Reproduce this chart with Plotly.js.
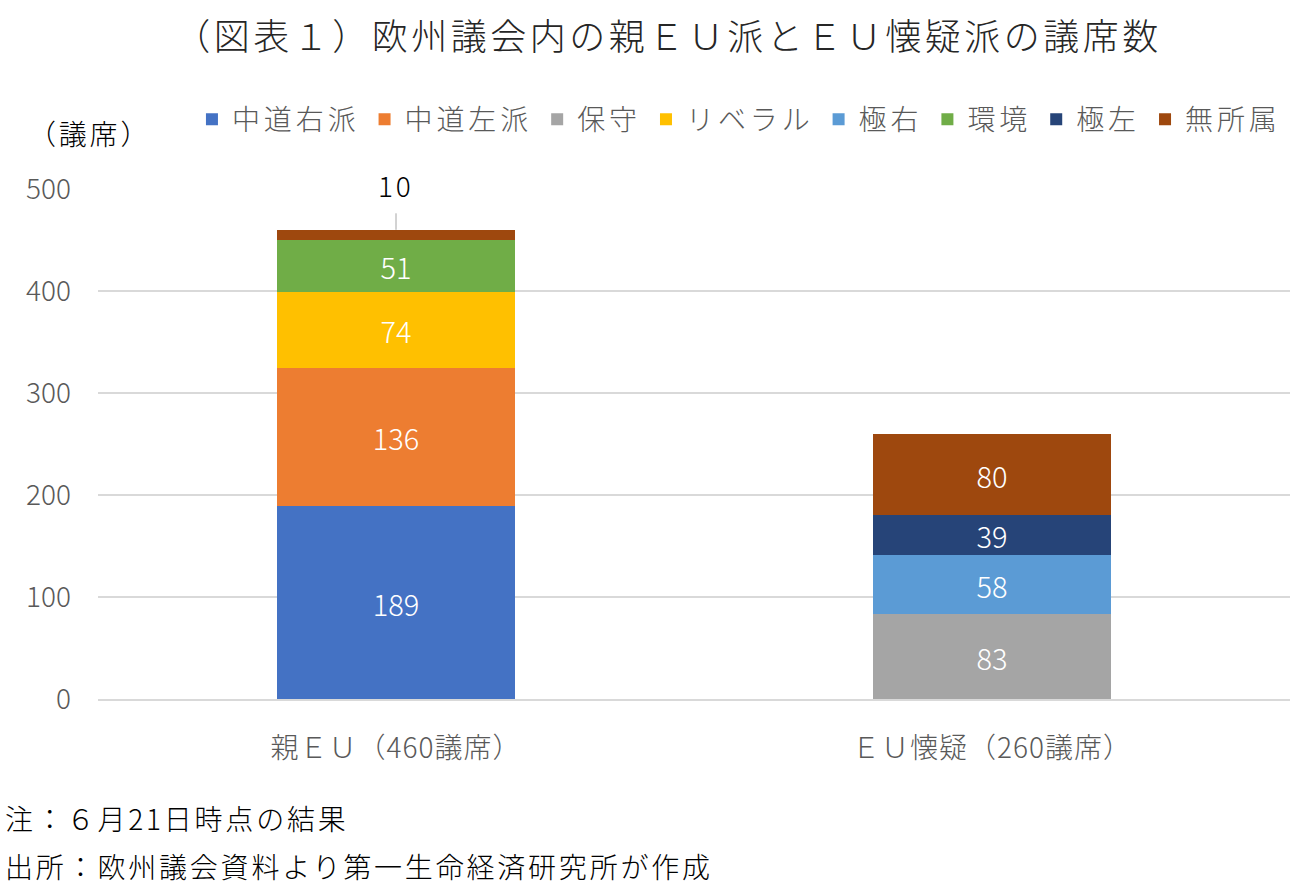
<!DOCTYPE html>
<html><head><meta charset="utf-8">
<script src="https://cdn.plot.ly/plotly-3.0.1.min.js"></script>
<style>
html,body{margin:0;padding:0;background:#fff}#chart{width:1297px;height:886px}
.gtitle{letter-spacing:3.5px}
.legendtext{letter-spacing:3.9px}
.annotation-text{letter-spacing:2.8px}
.xtick text{letter-spacing:1px}
</style>
</head><body><div id="chart"></div>
<script>
const categories = ['親ＥＵ（460議席）', 'ＥＵ懐疑（260議席）'];
const seriesNames = ['中道右派', '中道左派', '保守', 'リベラル', '極右', '環境', '極左', '無所属'];
const centerRight = [189, null];
const centerLeft = [136, null];
const conservative = [null, 83];
const liberal = [74, null];
const farRight = [null, 58];
const greens = [51, null];
const farLeft = [null, 39];
const nonAttached = [10, 80];
const colors = ['#4472C4', '#ED7D31', '#A5A5A5', '#FFC000', '#5B9BD5', '#70AD47', '#264478', '#9E480E'];
const yTicks = [0, 100, 200, 300, 400, 500];

const seriesValues = [centerRight, centerLeft, conservative, liberal, farRight, greens, farLeft, nonAttached];
const FONT = '"Noto Sans CJK JP", "Noto Sans", sans-serif';
const W = 300;

const traces = seriesValues.map((vals, i) => ({
  type: 'bar',
  name: seriesNames[i],
  x: categories,
  y: vals,
  marker: {color: colors[i], line: {width: 0}},
  text: vals.map((v, j) => (v == null || (i === 7 && j === 0)) ? '' : String(v)),
  textposition: 'inside',
  insidetextanchor: 'middle',
  constraintext: 'none',
  textangle: 0,
  textfont: {family: FONT, size: 29, color: '#ffffff', weight: W},
  hoverinfo: 'skip'
}));

const layout = {
  width: 1297, height: 886,
  barmode: 'stack',
  bargap: 0.6,
  paper_bgcolor: '#fff', plot_bgcolor: '#fff',
  margin: {l: 98, r: 7, t: 189, b: 187},
  font: {family: FONT, color: '#595959', weight: W},
  title: {text: '（図表１）欧州議会内の親ＥＵ派とＥＵ懐疑派の議席数', font: {family: FONT, size: 36, color: '#262626', weight: W},
          x: 0.515, xanchor: 'center', y: 0.958, yanchor: 'middle', xref: 'container', yref: 'container'},
  showlegend: true,
  legend: {orientation: 'h', xref: 'container', yref: 'container', x: 0.148, y: 0.865, xanchor: 'left', yanchor: 'middle',
           font: {family: FONT, size: 28, color: '#595959', weight: W}, traceorder: 'normal', itemsizing: 'constant', itemwidth: 30, tracegroupgap: 0},
  xaxis: {type: 'category', showgrid: false, showline: true, linecolor: '#d9d9d9', linewidth: 1.5, ticks: '',
          tickfont: {family: FONT, size: 28, color: '#595959', weight: W}, ticklabelstandoff: 24, zeroline: false},
  yaxis: {range: [0, 500], tickvals: yTicks, ticktext: yTicks.map(String), showgrid: true, gridcolor: '#d9d9d9', gridwidth: 1.3,
          zeroline: false, showline: false, ticks: '', tickfont: {family: FONT, size: 28, color: '#595959', weight: W}, ticklabelstandoff: 26},
  annotations: [
    {x: categories[0], y: centerRight[0] + centerLeft[0] + liberal[0] + greens[0] + nonAttached[0], xref: 'x', yref: 'y',
     text: String(nonAttached[0]), showarrow: true, arrowhead: 0, arrowwidth: 1, arrowcolor: '#a6a6a6', ax: 0, ay: -45,
     borderpad: 8, font: {family: FONT, size: 28, color: '#000', weight: W}},
    {xref: 'paper', yref: 'paper', x: -0.007, y: 1.11, text: '（議席）', showarrow: false,
     font: {family: FONT, size: 28, color: '#000', weight: W}, xanchor: 'center', yanchor: 'middle'},
    {xref: 'paper', yref: 'paper', x: -0.08, y: -0.233, text: '注：６月21日時点の結果', showarrow: false,
     font: {family: FONT, size: 28, color: '#000', weight: W}, xanchor: 'left', yanchor: 'middle'},
    {xref: 'paper', yref: 'paper', x: -0.08, y: -0.327, text: '出所：欧州議会資料より第一生命経済研究所が作成', showarrow: false,
     font: {family: FONT, size: 28, color: '#000', weight: W}, xanchor: 'left', yanchor: 'middle'}
  ]
};
Plotly.newPlot('chart', traces, layout, {displayModeBar: false, staticPlot: true});
</script></body></html>
